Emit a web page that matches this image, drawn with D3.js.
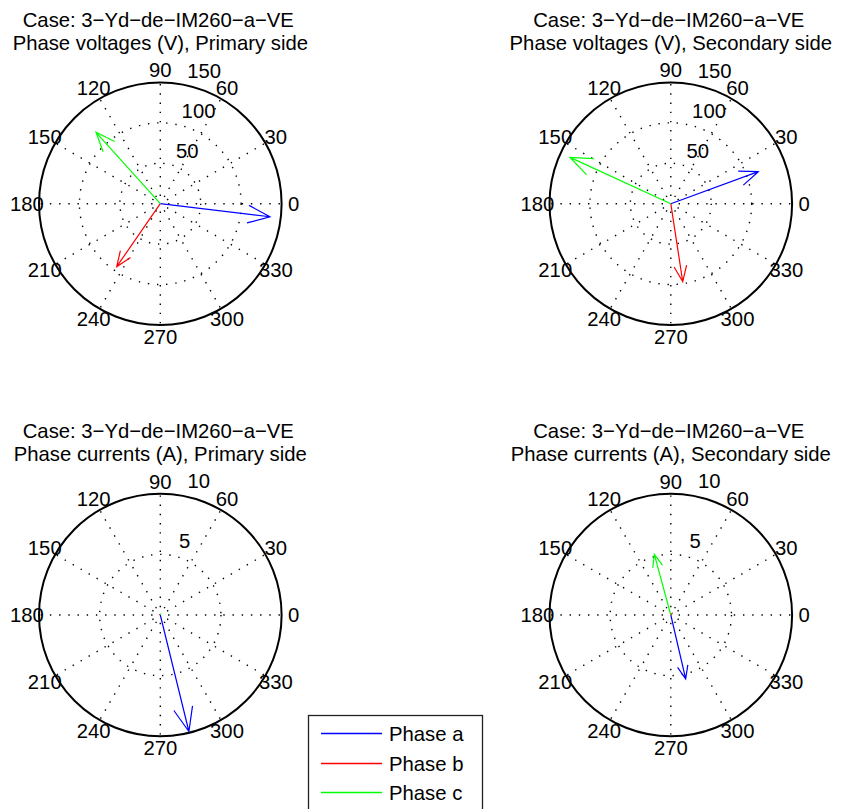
<!DOCTYPE html>
<html>
<head>
<meta charset="utf-8">
<script src="https://cdn.jsdelivr.net/npm/d3@7"></script>
<style>
  html, body { margin: 0; padding: 0; background: #fff; }
  svg { display: block; font-family: "Liberation Sans", Arial, Helvetica, sans-serif; }
</style>
</head>
<body>
<svg id="chart" width="841" height="809"></svg>
<script>
// ---------------- data ----------------
const caseTitle = "Case: 3\u2212Yd\u2212de\u2212IM260\u2212a\u2212VE";
const panelSubtitles = [
  "Phase voltages (V), Primary side",
  "Phase voltages (V), Secondary side",
  "Phase currents (A), Primary side",
  "Phase currents (A), Secondary side"
];
const phaseNames = ["Phase a", "Phase b", "Phase c"];
const phaseColors = ["#0000ff", "#ff0000", "#00ff00"];

// magnitudes and angles (deg) for phases a, b, c
const voltPrimaryMag = [136.6, 94.7, 118.8];
const voltPrimaryAng = [-6.8, 235.3, 132.0];
const voltSecondaryMag = [115.2, 97.6, 137.2];
const voltSecondaryAng = [20.1, 278.7, 155.3];
const currPrimaryMag = [9.89, 0.04, 0.05];
const currPrimaryAng = [283.8, 150, 60];
const currSecondaryMag = [5.41, 0.15, 5.18];
const currSecondaryAng = [283.1, 50, 105.2];

const voltTicks = [50, 100, 150];
const currTicks = [5, 10];
const angleTicks = [0, 30, 60, 90, 120, 150, 180, 210, 240, 270, 300, 330];

// ---------------- drawing ----------------
const svg = d3.select("#chart");
const FS = 20.3;
const R = 121.3;

const panels = [
  { cx: 160.3, cy: 203.7, mag: voltPrimaryMag, ang: voltPrimaryAng, ticks: voltTicks, sub: panelSubtitles[0] },
  { cx: 670.8, cy: 203.7, mag: voltSecondaryMag, ang: voltSecondaryAng, ticks: voltTicks, sub: panelSubtitles[1] },
  { cx: 160.3, cy: 615.0, mag: currPrimaryMag, ang: currPrimaryAng, ticks: currTicks, sub: panelSubtitles[2] },
  { cx: 670.8, cy: 615.0, mag: currSecondaryMag, ang: currSecondaryAng, ticks: currTicks, sub: panelSubtitles[3] }
];

panels.forEach(p => {
  const rmax = p.ticks[p.ticks.length - 1];
  const rinc = p.ticks[0];
  const r = d3.scaleLinear().domain([0, rmax]).range([0, R]);
  const g = svg.append("g").attr("transform", `translate(${p.cx},${p.cy})`);

  // titles
  svg.append("text").attr("x", p.cx - 2).attr("y", p.cy - 177.2)
    .attr("text-anchor", "middle").attr("font-size", FS).text(caseTitle);
  svg.append("text").attr("x", p.cx).attr("y", p.cy - 153.8)
    .attr("text-anchor", "middle").attr("font-size", FS).text(p.sub);

  // dotted rings (inner ticks)
  p.ticks.slice(0, -1).forEach(t => {
    g.append("circle").attr("r", r(t)).attr("fill", "none")
      .attr("stroke", "#000").attr("stroke-width", 1.4)
      .attr("stroke-dasharray", "1.4 7.8");
  });

  // dotted spokes from center outward
  angleTicks.forEach(a => {
    const th = a * Math.PI / 180;
    g.append("line").attr("x1", 0).attr("y1", 0)
      .attr("x2", R * Math.cos(th)).attr("y2", -R * Math.sin(th))
      .attr("stroke", "#000").attr("stroke-width", 1.4)
      .attr("stroke-dasharray", "1.4 7.8").attr("stroke-dashoffset", 1.4);
  });

  // outer circle
  g.append("circle").attr("r", R).attr("fill", "none")
    .attr("stroke", "#000").attr("stroke-width", 2);

  // angle labels
  angleTicks.forEach(a => {
    const th = a * Math.PI / 180;
    const rt = 1.1 * R;
    g.append("text").attr("x", rt * Math.cos(th)).attr("y", -rt * Math.sin(th))
      .attr("text-anchor", "middle").attr("dominant-baseline", "central")
      .attr("font-size", FS).text(a);
  });

  // radial labels at 82 degrees
  const c82 = Math.cos(82 * Math.PI / 180), s82 = Math.sin(82 * Math.PI / 180);
  p.ticks.forEach(t => {
    const rr = r(t + rinc / 20);
    g.append("text").attr("x", rr * c82 + 2 * 0.278 * FS - 1.5).attr("y", -rr * s82 - 0.2 * FS)
      .attr("font-size", FS).text(t);
  });

  // compass arrows
  const arrowX = [0, 1, 0.8, 1, 0.8];
  const arrowY = [0, 0, 0.08, 0, -0.08];
  p.mag.forEach((m, i) => {
    const th = p.ang[i] * Math.PI / 180;
    const zx = m * Math.cos(th), zy = m * Math.sin(th);
    const pts = arrowX.map((ax, k) => {
      const ay = arrowY[k];
      const px = ax * zx - ay * zy;
      const py = ax * zy + ay * zx;
      const rad = Math.hypot(px, py);
      const phi = Math.atan2(py, px);
      return [r(rad) * Math.cos(phi), -r(rad) * Math.sin(phi)];
    });
    g.append("path").attr("d", d3.line()(pts)).attr("fill", "none")
      .attr("stroke", phaseColors[i]).attr("stroke-width", 1.2)
      .attr("stroke-linejoin", "miter");
  });
});

// legend
const lg = svg.append("g").attr("transform", "translate(308,715)");
lg.append("rect").attr("x", 0.5).attr("y", 0.5).attr("width", 174).attr("height", 120)
  .attr("fill", "#fff").attr("stroke", "#222").attr("stroke-width", 1.3);
phaseNames.forEach((n, i) => {
  const y = Math.round(18 + i * 29.7) + 0.5;
  lg.append("line").attr("x1", 13).attr("x2", 74).attr("y1", y).attr("y2", y)
    .attr("stroke", phaseColors[i]).attr("stroke-width", 1.3);
  lg.append("text").attr("x", 81).attr("y", y).attr("dominant-baseline", "central")
    .attr("font-size", FS).text(n);
});
</script>
</body>
</html>
